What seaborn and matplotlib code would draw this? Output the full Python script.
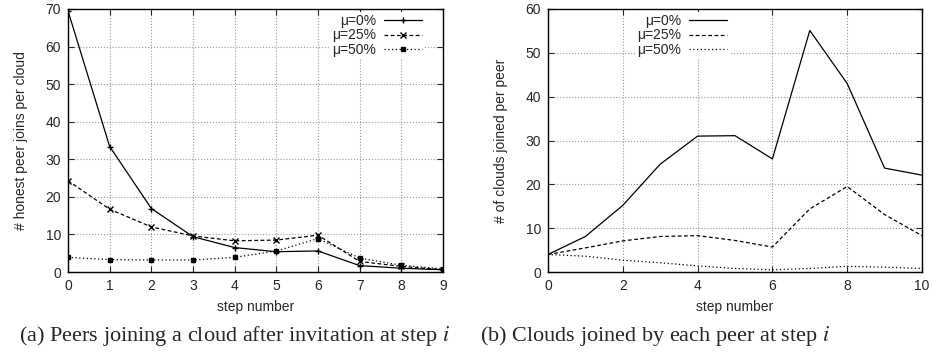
# Recreate two gnuplot-style line panels with seaborn
import matplotlib
matplotlib.use("Agg")
import matplotlib.pyplot as plt
import seaborn as sns

# Data
steps_a = [0, 1, 2, 3, 4, 5, 6, 7, 8, 9]
joins_mu0 = [69.5, 33.4, 16.9, 9.4, 6.5, 5.4, 5.6, 1.7, 1.0, 0.6]
joins_mu25 = [24.3, 16.7, 12.0, 9.6, 8.3, 8.5, 9.8, 2.8, 1.5, 0.6]
joins_mu50 = [3.9, 3.3, 3.2, 3.2, 3.9, 5.6, 8.9, 3.7, 1.8, 0.8]

steps_b = [0, 1, 2, 3, 4, 5, 6, 7, 8, 9, 10]
clouds_mu0 = [4.0, 8.1, 15.2, 24.6, 31.0, 31.1, 25.8, 55.1, 43.0, 23.7, 22.1]
clouds_mu25 = [4.0, 5.5, 7.1, 8.1, 8.3, 7.2, 5.7, 14.4, 19.5, 13.1, 8.3]
clouds_mu50 = [4.0, 3.6, 2.7, 2.1, 1.4, 0.8, 0.5, 0.8, 1.3, 1.1, 0.8]

labels = ["\u03bc=0%", "\u03bc=25%", "\u03bc=50%"]

sns.set_style("ticks")
plt.rcParams["font.family"] = ["Liberation Sans", "DejaVu Sans"]
plt.rcParams["mathtext.fontset"] = "stix"

fig = plt.figure(figsize=(9.33, 3.54), dpi=100)
ax_a = fig.add_axes([68 / 933, 82 / 354, 375 / 933, 263 / 354])
ax_b = fig.add_axes([548 / 933, 82 / 354, 374 / 933, 263 / 354])

dash_list = [None, (3, 2), (1, 2)]

# panel (a) with markers
for vals, lab, dash, (mk, ms) in zip([joins_mu0, joins_mu25, joins_mu50], labels, dash_list,
                                     [("+", 5), ("x", 4), ("s", 3)]):
    line = sns.lineplot(x=steps_a, y=vals, ax=ax_a, color="black", lw=0.9, label=lab,
                        marker=mk, markersize=ms, markeredgewidth=1.0,
                        markeredgecolor="black", markerfacecolor="black").lines[-1]
    if dash:
        line.set_dashes(dash)

# panel (b) lines only
for vals, lab, dash in zip([clouds_mu0, clouds_mu25, clouds_mu50], labels, dash_list):
    line = sns.lineplot(x=steps_b, y=vals, ax=ax_b, color="black", lw=0.9, label=lab).lines[-1]
    if dash:
        line.set_dashes(dash)

def style_axes(ax, xmax, xstep, ymax, ylabel):
    ax.set_xlim(0, xmax)
    ax.set_ylim(0, ymax)
    ax.set_xticks(range(0, xmax + 1, xstep))
    ax.set_yticks(range(0, ymax + 1, 10))
    ax.grid(True, color="#999999", linestyle=":", linewidth=0.8)
    ax.tick_params(direction="in", top=True, right=True, length=4, width=0.8,
                   labelsize=10, pad=5)
    for sp in ax.spines.values():
        sp.set_visible(True)
        sp.set_linewidth(1.0)
        sp.set_color("black")
    ax.set_xlabel("step number", fontsize=10)
    ax.set_ylabel(ylabel, fontsize=10)
    ax.xaxis.set_label_coords(0.5, -0.105)
    ax.yaxis.set_label_coords(-0.108, 0.5)

style_axes(ax_a, 9, 1, 70, "# honest peer joins per cloud")
style_axes(ax_b, 10, 2, 60, "# of clouds joined per peer")

for ax, xr in [(ax_a, (424 - 68) / 375), (ax_b, (729 - 548) / 374)]:
    leg = ax.legend(loc="upper right", bbox_to_anchor=(xr, 0.99), markerfirst=False,
                    frameon=True, fancybox=False, framealpha=1, edgecolor="none",
                    facecolor="white", fontsize=10, handlelength=2.7, handletextpad=0.6,
                    labelspacing=0.05, borderpad=0.15, borderaxespad=0)

fig.text(235 / 933, 18 / 354, "(a) Peers joining a cloud after invitation at step $i$",
         ha="center", va="center", fontsize=16, family="Liberation Serif")
fig.text(655 / 933, 18 / 354, "(b) Clouds joined by each peer at step $i$",
         ha="center", va="center", fontsize=16, family="Liberation Serif")

fig.savefig("out.png", dpi=100)
